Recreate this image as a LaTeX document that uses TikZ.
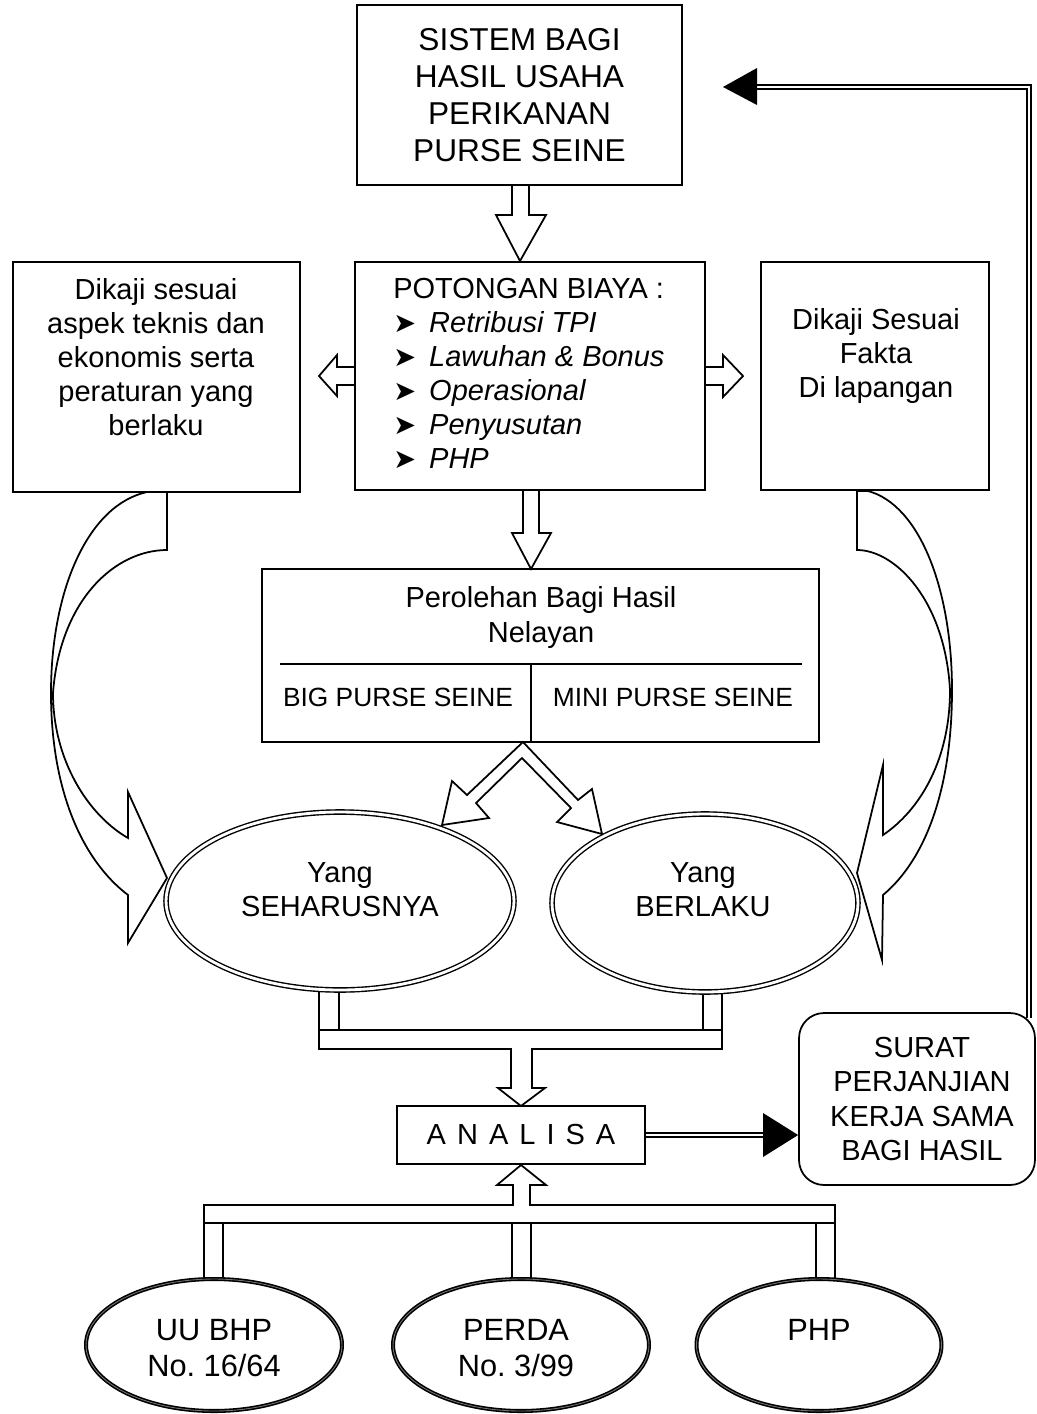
\documentclass[tikz,border=0pt]{standalone}
\usepackage{fontspec}
\setmainfont{Liberation Sans}
\newfontfamily\symfont{DejaVu Sans}
\usetikzlibrary{shapes.geometric,calc}

\newcommand{\arrbul}{{\symfont\fontsize{15.5}{15}\selectfont ➤}\hspace{0.45em}}
\newcommand{\lsp}{\hspace{0.38em}}

\tikzset{
  box/.style={draw, line width=1pt, inner sep=0pt},
  txt/.style={inner sep=0pt, align=center, font=\fontsize{16.5}{19.4}\selectfont},
  hollow/.style={draw, line width=1pt, line join=miter},
  dblline/.style={draw, line width=1.3pt, double=white, double distance=1.1pt},
  yang/.style={ellipse, draw, line width=0.8pt, double=white, double distance=1.6pt, fill=white, inner sep=0pt, minimum height=3.56cm},
  dasar/.style={ellipse, draw, line width=0.9pt, double=black!55, double distance=0.5pt, fill=white, inner sep=0pt, minimum height=2.64cm}
}

\begin{document}
\begin{tikzpicture}[x=0.02cm,y=-0.02cm]
    \useasboundingbox (0,0) rectangle (1036,1414);
    %KOTAK ATAS
    \node[box, txt, font=\fontsize{18}{21}\selectfont, minimum width=6.5cm, minimum height=3.6cm] (sistem) at (519.5,95) {SISTEM BAGI\\HASIL USAHA\\PERIKANAN\\PURSE SEINE};
    \node[box, minimum width=7.0cm, minimum height=4.56cm] (potongan) at (530,376) {};
    \node[txt, align=left, anchor=west] (potongantxt) at (393,373.5) {POTONGAN BIAYA :\\
        \arrbul\textit{Retribusi TPI}\\
        \arrbul\textit{Lawuhan \& Bonus}\\
        \arrbul\textit{Operasional}\\
        \arrbul\textit{Penyusutan}\\
        \arrbul\textit{PHP}};
    \node[box, minimum width=5.74cm, minimum height=4.6cm] (kajikiri) at (156.5,377) {};
    \node[txt] (kajikiritxt) at (156,357) {Dikaji sesuai\\aspek teknis dan\\ekonomis serta\\peraturan yang\\berlaku};
    \node[box, minimum width=4.56cm, minimum height=4.56cm] (kajikanan) at (875,376) {};
    \node[txt] (kajikanantxt) at (876,356) {Dikaji Sesuai\\Fakta\\Di lapangan};
    %PEROLEHAN
    \node[box, minimum width=11.14cm, minimum height=3.46cm] (perolehan) at (540.5,655.5) {};
    \node[txt] (perolehantxt) at (541,617.5) {Perolehan Bagi Hasil\\Nelayan};
    \draw[line width=1pt] (280,664) coordinate (garisL) -- (802,664) coordinate (garisR);
    \draw[line width=1pt] (531,664) -- (perolehan.south -| 531,0);
    \node[txt, font=\fontsize{15}{17}\selectfont] (big) at (398,697) {BIG PURSE SEINE};
    \node[txt, font=\fontsize{15}{17}\selectfont] (mini) at (673,697) {MINI PURSE SEINE};
    %PANAH KOSONG
    \draw[hollow] (512,185) -- (512,215) -- (496,215) -- (520,261) -- (546,215) -- (529,215) -- (529,185);
    \draw[hollow] (355,367) -- (337,367) -- (337,355) -- (319,376) -- (337,396) -- (337,385) -- (355,385);
    \draw[hollow] (705,367) -- (723,367) -- (723,355) -- (743,376) -- (723,397) -- (723,385) -- (705,385);
    \draw[hollow] (523,490) -- (523,533) -- (512,533) -- (531,569) -- (551,533) -- (539,533) -- (539,490);
    \draw[hollow] (523,742) -- (578,800) -- (592,789) -- (602,834) -- (557,822) -- (571,808) -- (522,758) -- (476,803) -- (489,818) -- (442,825) -- (452,781) -- (467,795) -- cycle;
    %PIPA ATAS
    \draw[hollow] (319,985) -- (319,1049) -- (511,1049) -- (511,1088) -- (498,1088) -- (521,1106) -- (545,1088) -- (532,1088) -- (532,1049) -- (722,1049) -- (722,985);
    \draw[hollow] (339,985) -- (339,1030);
    \draw[hollow] (703,985) -- (703,1030);
    \draw[hollow] (319,1030) -- (722,1030);
    %PIPA BAWAH
    \draw[hollow] (204,1285) -- (204,1205) -- (513,1205) -- (513,1185) -- (497,1185) -- (521,1165) -- (546,1185) -- (530,1185) -- (530,1205) -- (835,1205) -- (835,1285);
    \draw[hollow] (204,1223) -- (835,1223);
    \foreach \xa in {223,512,531,816}
        \draw[hollow] (\xa,1223) -- (\xa,1285);
    %ELIPS
    \node[yang, minimum width=6.96cm] (seharusnya) at (340,901) {};
    \node[txt] (seharusnyatxt) at (340,890) {Yang\\SEHARUSNYA};
    \node[yang, minimum width=6.12cm] (berlaku) at (705,903) {};
    \node[txt] (berlakutxt) at (703,890) {Yang\\BERLAKU};
    %PANAH LENGKUNG
    \draw[hollow] (147,492) -- (167,492) -- (167,550)
        .. controls (115,550) and (60,600) .. (53,693)
        .. controls (53,760) and (88,815) .. (128,838)
        -- (128,792) -- (167,878) -- (128,943) -- (128,895)
        .. controls (82,860) and (51,790) .. (51,693)
        .. controls (51,590) and (88,505) .. (147,492);
    \draw[hollow] (857,491) -- (868,491)
        .. controls (920,505) and (952,590) .. (952,690)
        .. controls (952,790) and (925,860) .. (883,895)
        -- (882,960) -- (857,873) -- (883,765) -- (883,835)
        .. controls (920,810) and (950,760) .. (950,690)
        .. controls (945,600) and (895,550) .. (857,550) -- cycle;
    %ANALISA
    \node[box, txt, minimum width=4.96cm, minimum height=1.16cm] (analisa) at (521,1135) {A\lsp N\lsp A\lsp L\lsp I\lsp S\lsp A};
    \node[box, rounded corners=0.5cm, minimum width=4.72cm, minimum height=3.44cm] (surat) at (917,1099) {};
    \node[txt] (surattxt) at (922,1099) {SURAT\\PERJANJIAN\\KERJA SAMA\\BAGI HASIL};
    \draw[dblline] (analisa.east) -- (763,1135);
    \fill (763,1113) -- (surat.west |- analisa.east) -- (763,1157) -- cycle;
    %UMPAN BALIK
    \coordinate (fbujung) at (723,87);
    \draw[dblline] ($(surat.north east)+(-7,6)$) |- (757,87);
    \fill (757,68) -- (fbujung) -- (757,105) -- cycle;
    %DASAR HUKUM
    \node[dasar, minimum width=5.12cm] (uubhp) at (214,1345) {};
    \node[txt, font=\fontsize{17.5}{20.5}\selectfont] (uubhptxt) at (214,1348) {UU BHP\\No.\ 16/64};
    \node[dasar, minimum width=5.12cm] (perda) at (521,1345) {};
    \node[txt, font=\fontsize{17.5}{20.5}\selectfont] (perdatxt) at (516,1348) {PERDA\\No.\ 3/99};
    \node[dasar, minimum width=4.9cm] (php) at (819,1345) {};
    \node[txt, font=\fontsize{17.5}{20.5}\selectfont] (phptxt) at (819,1330) {PHP};
\end{tikzpicture}
\end{document}
